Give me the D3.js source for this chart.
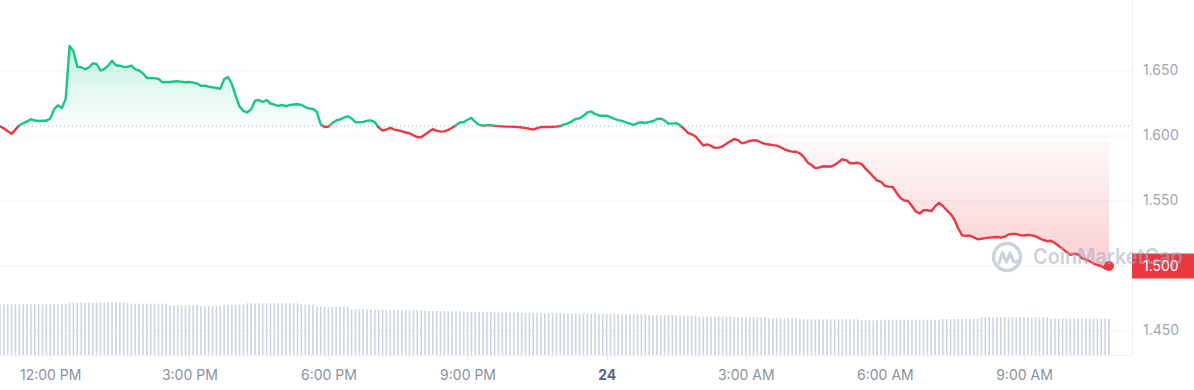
<!DOCTYPE html>
<html>
<head>
<meta charset="utf-8">
<script src="https://cdn.jsdelivr.net/npm/d3@7"></script>
<style>
  body { margin: 0; background: #fff; }
  svg { display: block; font-family: Inter, "Noto Sans", sans-serif; }
</style>
</head>
<body>
<svg id="chart" width="1194" height="390"></svg>
<script>
// 24h of 5 minute samples
var startTime = new Date(2024, 6, 23, 10, 55);
var stepMinutes = 5;

var prices = [
  1.6073, 1.6053, 1.6033, 1.6013, 1.6045, 1.6079, 1.6094, 1.6109, 1.6125, 1.6115, 1.6112, 1.6114,
  1.6114, 1.6130, 1.6202, 1.6232, 1.6212, 1.6281, 1.6688, 1.6650, 1.6529, 1.6525, 1.6510, 1.6523,
  1.6555, 1.6550, 1.6500, 1.6513, 1.6538, 1.6575, 1.6540, 1.6537, 1.6528, 1.6528, 1.6538, 1.6508,
  1.6500, 1.6478, 1.6442, 1.6442, 1.6441, 1.6435, 1.6410, 1.6411, 1.6412, 1.6415, 1.6418, 1.6413,
  1.6410, 1.6412, 1.6407, 1.6400, 1.6383, 1.6383, 1.6375, 1.6370, 1.6365, 1.6360, 1.6432, 1.6450,
  1.6396, 1.6304, 1.6223, 1.6188, 1.6178, 1.6202, 1.6268, 1.6273, 1.6258, 1.6273, 1.6246, 1.6238,
  1.6227, 1.6236, 1.6225, 1.6235, 1.6238, 1.6240, 1.6236, 1.6219, 1.6208, 1.6205, 1.6181, 1.6085,
  1.6065, 1.6069, 1.6096, 1.6116, 1.6123, 1.6137, 1.6148, 1.6131, 1.6102, 1.6102, 1.6105, 1.6113,
  1.6116, 1.6102, 1.6062, 1.6038, 1.6046, 1.6059, 1.6045, 1.6040, 1.6032, 1.6023, 1.6017, 1.6001,
  1.5987, 1.5987, 1.6008, 1.6030, 1.6048, 1.6038, 1.6030, 1.6032, 1.6043, 1.6060, 1.6079, 1.6100,
  1.6104, 1.6121, 1.6135, 1.6104, 1.6082, 1.6076, 1.6079, 1.6080, 1.6075, 1.6072, 1.6071, 1.6068,
  1.6068, 1.6067, 1.6065, 1.6062, 1.6057, 1.6052, 1.6045, 1.6057, 1.6065, 1.6065, 1.6065, 1.6067,
  1.6069, 1.6073, 1.6085, 1.6093, 1.6109, 1.6128, 1.6132, 1.6152, 1.6178, 1.6185, 1.6166, 1.6154,
  1.6152, 1.6152, 1.6141, 1.6128, 1.6118, 1.6112, 1.6101, 1.6092, 1.6082, 1.6096, 1.6102, 1.6096,
  1.6105, 1.6110, 1.6127, 1.6130, 1.6115, 1.6091, 1.6091, 1.6095, 1.6078, 1.6052, 1.6021, 1.6009,
  1.5992, 1.5958, 1.5923, 1.5932, 1.5920, 1.5905, 1.5907, 1.5917, 1.5936, 1.5955, 1.5973, 1.5965,
  1.5940, 1.5947, 1.5958, 1.5963, 1.5960, 1.5946, 1.5936, 1.5931, 1.5926, 1.5922, 1.5910, 1.5894,
  1.5883, 1.5876, 1.5875, 1.5863, 1.5835, 1.5793, 1.5773, 1.5749, 1.5754, 1.5763, 1.5762, 1.5761,
  1.5773, 1.5795, 1.5817, 1.5809, 1.5787, 1.5787, 1.5790, 1.5780, 1.5745, 1.5715, 1.5683, 1.5653,
  1.5644, 1.5613, 1.5607, 1.5604, 1.5560, 1.5519, 1.5500, 1.5496, 1.5458, 1.5415, 1.5400, 1.5425,
  1.5425, 1.5418, 1.5454, 1.5481, 1.5458, 1.5425, 1.5396, 1.5354, 1.5283, 1.5232, 1.5229, 1.5230,
  1.5216, 1.5202, 1.5206, 1.5211, 1.5214, 1.5217, 1.5219, 1.5214, 1.5221, 1.5239, 1.5242, 1.5242,
  1.5233, 1.5231, 1.5236, 1.5232, 1.5225, 1.5209, 1.5196, 1.5187, 1.5190, 1.5173, 1.5150, 1.5128,
  1.5103, 1.5083, 1.5090, 1.5085, 1.5057, 1.5046, 1.5032, 1.5015, 1.5004, 1.4996, 1.4977, 1.4996
];

// rolling volume (millions), one bar per sample
var volumes = [
  5.07, 5.07, 5.07, 5.07, 5.07, 5.07, 5.07, 5.07, 5.07, 5.07, 5.07, 5.07,
  5.07, 5.07, 5.07, 5.07, 5.10, 5.10, 5.23, 5.23, 5.23, 5.23, 5.23, 5.23,
  5.23, 5.23, 5.23, 5.23, 5.23, 5.23, 5.23, 5.23, 5.23, 5.23, 5.13, 5.13,
  5.13, 5.13, 5.13, 5.13, 5.13, 5.13, 5.13, 5.13, 4.97, 4.97, 4.97, 4.97,
  4.97, 4.97, 4.97, 4.97, 4.90, 4.90, 4.90, 4.90, 4.90, 4.90, 5.03, 5.03,
  5.03, 5.03, 5.03, 5.03, 5.17, 5.17, 5.17, 5.17, 5.17, 5.17, 5.17, 5.17,
  5.17, 5.17, 5.17, 5.17, 5.17, 5.17, 5.03, 5.03, 5.03, 5.03, 4.83, 4.83,
  4.83, 4.83, 4.83, 4.83, 4.83, 4.83, 4.83, 4.57, 4.57, 4.57, 4.57, 4.57,
  4.53, 4.53, 4.53, 4.53, 4.50, 4.50, 4.50, 4.50, 4.45, 4.45, 4.45, 4.45,
  4.45, 4.45, 4.40, 4.40, 4.40, 4.40, 4.40, 4.40, 4.37, 4.37, 4.37, 4.37,
  4.37, 4.30, 4.30, 4.30, 4.30, 4.30, 4.30, 4.30, 4.25, 4.25, 4.25, 4.25,
  4.25, 4.25, 4.25, 4.22, 4.22, 4.22, 4.22, 4.22, 4.22, 4.18, 4.18, 4.18,
  4.18, 4.18, 4.18, 4.18, 4.15, 4.15, 4.15, 4.15, 4.15, 4.15, 4.15, 4.10,
  4.10, 4.10, 4.10, 4.10, 4.10, 4.05, 4.05, 4.05, 4.05, 4.05, 4.05, 4.05,
  4.00, 4.00, 4.00, 4.00, 4.00, 4.00, 4.00, 3.95, 3.95, 3.95, 3.95, 3.95,
  3.95, 3.85, 3.85, 3.85, 3.85, 3.85, 3.85, 3.85, 3.85, 3.85, 3.78, 3.78,
  3.78, 3.78, 3.78, 3.78, 3.78, 3.78, 3.78, 3.68, 3.68, 3.68, 3.68, 3.68,
  3.68, 3.68, 3.68, 3.57, 3.57, 3.57, 3.57, 3.57, 3.57, 3.57, 3.57, 3.57,
  3.57, 3.57, 3.57, 3.57, 3.57, 3.57, 3.57, 3.47, 3.47, 3.47, 3.47, 3.47,
  3.53, 3.53, 3.53, 3.53, 3.53, 3.53, 3.53, 3.53, 3.53, 3.53, 3.53, 3.53,
  3.53, 3.53, 3.53, 3.53, 3.60, 3.60, 3.60, 3.60, 3.60, 3.60, 3.60, 3.60,
  3.60, 3.60, 3.77, 3.77, 3.77, 3.77, 3.77, 3.77, 3.77, 3.77, 3.77, 3.77,
  3.77, 3.77, 3.77, 3.77, 3.77, 3.77, 3.77, 3.77, 3.63, 3.63, 3.63, 3.63,
  3.63, 3.63, 3.63, 3.63, 3.63, 3.63, 3.63, 3.63, 3.63, 3.63, 3.63, 3.63
];

var priceTicks = [1.45, 1.50, 1.55, 1.60, 1.65];
var watermarkText = "CoinMarketCap";

var green = "#16c784", red = "#ea3943";
var plotRight = 1132, plotBottom = 355;

var times = prices.map(function(d, i) {
    return d3.timeMinute.offset(startTime, i * stepMinutes);
});

var svg = d3.select("#chart");
var defs = svg.append("defs");

var x = d3.scaleTime()
    .domain([times[0], times[times.length - 1]])
    .range([0, 1109]);
var y = d3.scaleLinear().domain([1.45, 1.65]).range([330.5, 70.5]);
var yVol = d3.scaleLinear().domain([0, 6]).range([plotBottom, 295]);

var openPrice = prices[0];
var baseY = y(openPrice);
var last = prices[prices.length - 1];
var lastY = y(last);
var lastColor = last < openPrice ? red : green;

// clip regions above / below the opening price
defs.append("clipPath").attr("id", "clipUp")
    .append("rect").attr("x", -10).attr("y", 0).attr("width", 1200).attr("height", baseY);
defs.append("clipPath").attr("id", "clipDown")
    .append("rect").attr("x", -10).attr("y", baseY).attr("width", 1200).attr("height", 400);

function gradient(id, color, y1, y2, o1, o2) {
    var g = defs.append("linearGradient").attr("id", id)
        .attr("gradientUnits", "userSpaceOnUse")
        .attr("x1", 0).attr("x2", 0).attr("y1", y1).attr("y2", y2);
    g.append("stop").attr("offset", 0).attr("stop-color", color).attr("stop-opacity", o1);
    g.append("stop").attr("offset", 1).attr("stop-color", color).attr("stop-opacity", o2);
}
gradient("fillUp", green, 40, baseY, 0.26, 0.02);
gradient("fillDown", red, baseY, 275, 0.0, 0.26);

// y axis + horizontal grid
var yAxis = svg.append("g")
    .attr("transform", "translate(" + plotRight + ",0)")
    .call(d3.axisRight(y)
        .tickValues(priceTicks)
        .tickSize(-plotRight)
        .tickPadding(11)
        .tickFormat(d3.format(".3f")));
yAxis.select(".domain").remove();
yAxis.selectAll("line").attr("stroke", "#f1f3f6");
yAxis.selectAll("text")
    .attr("fill", "#a1a7b3")
    .attr("font-size", 14)
    .attr("font-family", "Inter, sans-serif")
    // the label under the last-price tag is hidden by it
    .attr("display", function(d) { return Math.abs(y(d) - lastY) < 13 ? "none" : null; });

// volume bars
svg.append("g").selectAll("rect")
    .data(volumes)
    .join("rect")
    .attr("x", function(d, i) { return x(times[i]) - 0.8; })
    .attr("width", 1.6)
    .attr("y", function(d) { return yVol(d); })
    .attr("height", function(d) { return plotBottom - yVol(d); })
    .attr("fill", "#cdd4e2");

// frame
svg.append("line")
    .attr("x1", plotRight + 0.5).attr("x2", plotRight + 0.5)
    .attr("y1", 0).attr("y2", plotBottom)
    .attr("stroke", "#eef0f4");
svg.append("line")
    .attr("x1", 0).attr("x2", plotRight)
    .attr("y1", plotBottom + 0.5).attr("y2", plotBottom + 0.5)
    .attr("stroke", "#eef0f4");

// x axis
var timeLabel = d3.timeFormat("%-I:%M %p"), dayLabel = d3.timeFormat("%-d");
var xAxis = svg.append("g")
    .attr("transform", "translate(0," + plotBottom + ")")
    .call(d3.axisBottom(x)
        .ticks(d3.timeHour.every(3))
        .tickSize(5)
        .tickPadding(10)
        .tickFormat(function(d) { return d.getHours() === 0 ? dayLabel(d) : timeLabel(d); }));
xAxis.select(".domain").remove();
xAxis.selectAll("line").attr("stroke", "#e6e9ef");
xAxis.selectAll("text")
    .attr("font-size", 14)
    .attr("font-family", "Inter, sans-serif")
    .attr("font-weight", function(d) { return d.getHours() === 0 ? 700 : 400; })
    .attr("fill", function(d) { return d.getHours() === 0 ? "#58667e" : "#8a92a2"; });

// opening price reference line
svg.append("line")
    .attr("x1", 0).attr("x2", plotRight)
    .attr("y1", baseY).attr("y2", baseY)
    .attr("stroke", "#a6b0c3")
    .attr("stroke-width", 1)
    .attr("stroke-dasharray", "1,3");

var area = d3.area()
    .x(function(d, i) { return x(times[i]); })
    .y0(baseY)
    .y1(function(d) { return y(d); });
var line = d3.line()
    .x(function(d, i) { return x(times[i]); })
    .y(function(d) { return y(d); });

svg.append("path").datum(prices)
    .attr("d", area).attr("fill", "url(#fillUp)").attr("clip-path", "url(#clipUp)");
svg.append("path").datum(prices)
    .attr("d", area).attr("fill", "url(#fillDown)").attr("clip-path", "url(#clipDown)");

svg.append("path").datum(prices)
    .attr("d", line).attr("fill", "none")
    .attr("stroke", green).attr("stroke-width", 2.4).attr("stroke-linejoin", "round")
    .attr("clip-path", "url(#clipUp)");
svg.append("path").datum(prices)
    .attr("d", line).attr("fill", "none")
    .attr("stroke", red).attr("stroke-width", 2.4).attr("stroke-linejoin", "round")
    .attr("clip-path", "url(#clipDown)");

// last price dot + tag
svg.append("circle")
    .attr("cx", x(times[times.length - 1]))
    .attr("cy", lastY)
    .attr("r", 5)
    .attr("fill", lastColor);

var tag = svg.append("g").attr("transform", "translate(" + plotRight + "," + lastY + ")");
tag.append("rect")
    .attr("x", 0).attr("y", -12.5)
    .attr("width", 1194 - plotRight).attr("height", 25)
    .attr("fill", lastColor);
tag.append("text")
    .attr("x", 11).attr("dy", "0.32em")
    .attr("fill", "#fff")
    .attr("font-size", 14)
    .text(d3.format(".3f")(last));

// watermark
var wm = svg.append("g")
    .attr("transform", "translate(1007,257)")
    .attr("opacity", 0.55);
wm.append("circle")
    .attr("r", 13.5)
    .attr("fill", "none")
    .attr("stroke", "#a3aec3")
    .attr("stroke-width", 3.4);
wm.append("path")
    .attr("d", "M-8,6 L-4.5,-4 L-0.5,5 L3,-4 L6,3 Q8,7 11,4")
    .attr("fill", "none")
    .attr("stroke", "#a3aec3")
    .attr("stroke-width", 3.2)
    .attr("stroke-linecap", "round")
    .attr("stroke-linejoin", "round");
wm.append("text")
    .attr("x", 26).attr("dy", "0.35em")
    .attr("fill", "#a3aec3")
    .attr("font-size", 21)
    .attr("font-weight", 600)
    .attr("textLength", 150)
    .attr("lengthAdjust", "spacingAndGlyphs")
    .text(watermarkText);
</script>
</body>
</html>
